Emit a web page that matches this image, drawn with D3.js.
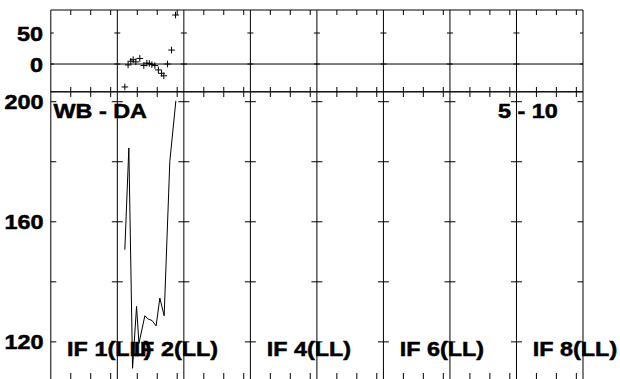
<!DOCTYPE html>
<html><head><meta charset="utf-8">
<script src="https://cdn.jsdelivr.net/npm/d3@7"></script>
<style>body{margin:0;background:#fff}svg{display:block}</style>
</head><body>
<svg id="c" width="620" height="379"></svg>
<script>
// ---- data ----
const sections = [0,1,2,3,4,5,6,7,8];            // section boundaries (x units)
const minorOffsets = [0.3,0.6,0.9];               // minor tick offsets in each section
const sectionLabels = ["IF 1(LL)","IF 2(LL)","","IF 4(LL)","","IF 6(LL)","","IF 8(LL)"];
const topTicks = [0,50];
const bottomTicks = [120,140,160,180,200];
const bottomTickLabels = [120,160,200];
const diffX = [1.113,1.162,1.203,1.238,1.278,1.338,1.398,1.444,1.481,1.519,1.564,1.617,1.665,1.699,1.755,1.815,1.875];
const diffY = [-37,-1.5,4.5,7,3.5,9,-2.5,1.5,1,-1,-2.5,-9.5,-15,-19,0,22.5,79];
const lineX = [1.113,1.173,1.229,1.289,1.325,1.414,1.463,1.523,1.583,1.639,1.704,1.789,1.880];
const lineY = [150.7,184.6,111.2,131.8,119.5,128.7,127.6,127.1,125.3,134.6,128.7,180.1,200.3];
const titleLeft = "WB - DA";
const titleRight = "5 - 10";

// ---- layout ----
const svg = d3.select("#c");
const x = d3.scaleLinear().domain([0,8]).range([50.8,583]);
const yTop = d3.scaleLinear().domain([-44.8,87.1]).range([91.8,10]);
const yBot = d3.scaleLinear().domain([107.3,203.3]).range([380,91.8]);
const FONT = "'Liberation Sans', Arial, Helvetica, sans-serif";
const SX = 1.17;

const minors = [];
sections.slice(0,-1).forEach(s => minorOffsets.forEach(o => minors.push(s+o)));

const g = svg.append("g").attr("stroke","#000").attr("stroke-width",1).attr("fill","none");

// panel frames
[[yTop,10,91.8],[yBot,91.8,380]].forEach(([ys,y0,y1]) => {
  g.append("line").attr("x1",x(0)).attr("x2",x(8)).attr("y1",y0).attr("y2",y0);
  g.append("line").attr("x1",x(0)).attr("x2",x(8)).attr("y1",y1).attr("y2",y1);
});
// vertical section lines
sections.forEach(s => g.append("line").attr("x1",x(s)).attr("x2",x(s)).attr("y1",10).attr("y2",380));
// zero line
g.append("line").attr("x1",x(0)).attr("x2",x(8)).attr("y1",yTop(0)).attr("y2",yTop(0));

// minor x ticks
minors.forEach(m => {
  const xx = x(m);
  g.append("line").attr("x1",xx).attr("x2",xx).attr("y1",10).attr("y2",15);
  g.append("line").attr("x1",xx).attr("x2",xx).attr("y1",87).attr("y2",91.8);
  g.append("line").attr("x1",xx).attr("x2",xx).attr("y1",91.8).attr("y2",97);
  g.append("line").attr("x1",xx).attr("x2",xx).attr("y1",373).attr("y2",380);
});

// y ticks on every section line
function yTicks(ys, vals, len){
  sections.forEach((s,i) => {
    const xx = x(s);
    vals.forEach(v => {
      const l = i===0 ? 0 : len, r = i===sections.length-1 ? 0 : len;
      g.append("line").attr("x1",xx-l).attr("x2",xx+r).attr("y1",ys(v)).attr("y2",ys(v));
    });
  });
}
yTicks(yTop, topTicks, 3);
yTicks(yBot, bottomTicks, 5.5);

// scatter (+ markers)
const pts = diffX.map((d,i)=>[d,diffY[i]]);
g.selectAll("path.plus").data(pts).enter().append("path")
  .attr("d", d => { const px=x(d[0]), py=yTop(d[1]); return `M${px-3.3},${py}H${px+3.3}M${px},${py-3.3}V${py+3.3}`; });

// line
const lp = lineX.map((d,i)=>[d,lineY[i]]);
g.append("path").attr("d", d3.line().x(d=>x(d[0])).y(d=>yBot(d[1]))(lp)).attr("stroke-width",1);

// text helper
function txt(str, px, py, anchor){
  svg.append("text").text(str)
    .attr("transform",`translate(${px},${py}) scale(${SX},1)`)
    .attr("text-anchor",anchor||"start")
    .attr("font-family",FONT).attr("font-weight","bold").attr("font-size",20)
    .attr("fill","#000").attr("stroke","#000").attr("stroke-width",0.5);
}
topTicks.forEach(v => txt(String(v), 43, yTop(v)+7.5, "end"));
bottomTickLabels.forEach(v => txt(String(v), 43.5, yBot(v)+7.5, "end"));
txt(titleLeft, 53.5, 118);
txt(titleRight, 498, 118);
sectionLabels.forEach((l,i) => { if(l) txt(l, x(i)+16.3, 355.7); });
</script>
</body></html>
